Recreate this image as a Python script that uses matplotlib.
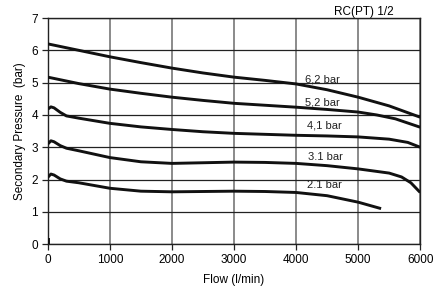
import matplotlib
matplotlib.use("Agg")
import matplotlib.pyplot as plt

plt.rcParams['font.family'] = ['Liberation Sans', 'DejaVu Sans']

# curves (flow in l/min, pressure in bar)
flow_62 = [0, 500, 1000, 1500, 2000, 2500, 3000, 3500, 4000, 4500, 5000, 5500, 6000]
p_62 = [6.2, 6.0, 5.8, 5.62, 5.45, 5.3, 5.17, 5.07, 4.96, 4.78, 4.55, 4.28, 3.93]

flow_52 = [0, 500, 1000, 1500, 2000, 2500, 3000, 3500, 4000, 4500, 5000, 5300, 5600, 6000]
p_52 = [5.17, 4.97, 4.8, 4.67, 4.55, 4.45, 4.36, 4.3, 4.24, 4.17, 4.09, 4.0, 3.88, 3.62]

flow_41 = [0, 50, 100, 200, 300, 500, 1000, 1500, 2000, 2500, 3000, 3500, 4000, 4500, 5000, 5500, 5800, 6000]
p_41 = [4.18, 4.25, 4.22, 4.08, 3.97, 3.9, 3.74, 3.63, 3.55, 3.48, 3.43, 3.4, 3.37, 3.35, 3.32, 3.25, 3.15, 3.0]

flow_31 = [0, 50, 100, 200, 300, 500, 1000, 1500, 2000, 2500, 3000, 3500, 4000, 4500, 5000, 5500, 5700, 5850, 6000]
p_31 = [3.1, 3.2, 3.17, 3.05, 2.97, 2.89, 2.68, 2.55, 2.5, 2.52, 2.54, 2.53, 2.5, 2.43, 2.33, 2.2, 2.08, 1.9, 1.6]

flow_21 = [0, 50, 100, 200, 300, 500, 1000, 1500, 2000, 2500, 3000, 3500, 4000, 4500, 5000, 5370]
p_21 = [2.07, 2.17, 2.14, 2.02, 1.95, 1.9, 1.73, 1.64, 1.62, 1.63, 1.64, 1.63, 1.6, 1.5, 1.3, 1.1]

labels = ["6,2 bar", "5,2 bar", "4,1 bar", "3.1 bar", "2.1 bar"]
label_x = [4150, 4150, 4170, 4200, 4180]
label_y = [5.1, 4.39, 3.66, 2.7, 1.84]

curves = [(flow_62, p_62), (flow_52, p_52), (flow_41, p_41), (flow_31, p_31), (flow_21, p_21)]

fig = plt.figure(figsize=(4.47, 2.91), dpi=100)
ax = fig.add_axes([0.107, 0.161, 0.833, 0.777])

for fx, py in curves:
    ax.plot(fx, py, color="#111111", lw=2.1, solid_capstyle="butt",
            solid_joinstyle="round", zorder=3)
# little stub at the origin
ax.plot([0, 0], [-0.1, 0.15], color="#111111", lw=2.1, zorder=3)

for lab, lx, ly in zip(labels, label_x, label_y):
    ax.text(lx, ly, lab, fontsize=8, va="center", ha="left", color="#222222")

ax.set_xlim(0, 6000)
ax.set_ylim(0, 7)
ax.set_xticks(range(0, 6001, 1000))
ax.set_yticks(range(0, 8))
ax.xaxis.grid(True, color="#777777", lw=1.2)
ax.yaxis.grid(True, color="#222222", lw=0.9)
ax.set_axisbelow(True)
for s in ax.spines.values():
    s.set_color("#222222")
    s.set_linewidth(1.0)
ax.tick_params(labelsize=8.5, length=4, width=0.9, color="#222222", pad=3)

ax.set_xlabel("Flow (l/min)", fontsize=8.5, labelpad=6)
ax.set_ylabel("Secondary Pressure  (bar)", fontsize=8.5, labelpad=4)
fig.text(0.815, 0.96, "RC(PT) 1/2", fontsize=8.5, ha="center", va="center")

fig.savefig("out.png", dpi=100)
